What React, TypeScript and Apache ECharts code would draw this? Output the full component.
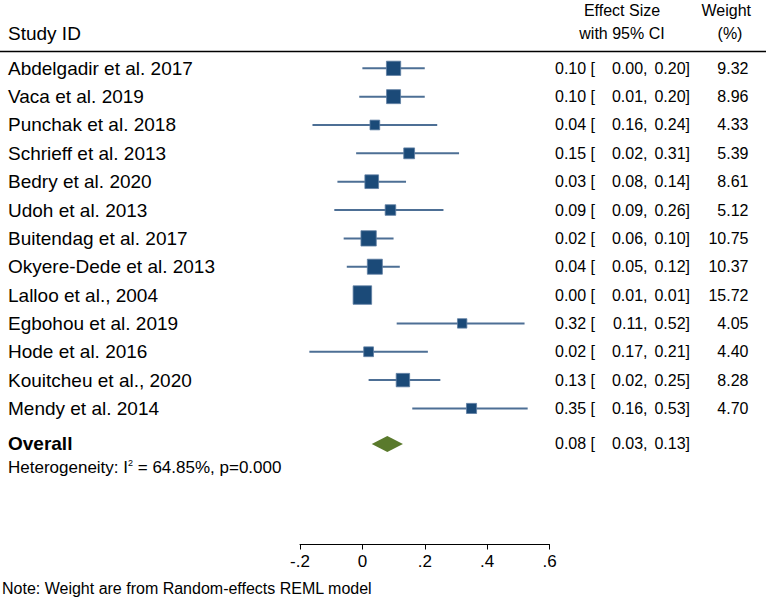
import React, { useEffect, useRef } from "react";
import * as echarts from "echarts";

const studies = [
  "Abdelgadir et al. 2017",
  "Vaca et al. 2019",
  "Punchak et al. 2018",
  "Schrieff et al. 2013",
  "Bedry et al. 2020",
  "Udoh et al. 2013",
  "Buitendag et al. 2017",
  "Okyere-Dede et al. 2013",
  "Lalloo et al., 2004",
  "Egbohou et al. 2019",
  "Hode et al. 2016",
  "Kouitcheu et al., 2020",
  "Mendy et al. 2014",
];
const effect = [0.1, 0.1, 0.04, 0.15, 0.03, 0.09, 0.02, 0.04, 0.0, 0.32, 0.02, 0.13, 0.35];
const lower = [0.0, -0.01, -0.16, -0.02, -0.08, -0.09, -0.06, -0.05, -0.01, 0.11, -0.17, 0.02, 0.16];
const upper = [0.2, 0.2, 0.24, 0.31, 0.14, 0.26, 0.1, 0.12, 0.01, 0.52, 0.21, 0.25, 0.53];
const weights = [9.32, 8.96, 4.33, 5.39, 8.61, 5.12, 10.75, 10.37, 15.72, 4.05, 4.4, 8.28, 4.7];
const overallEffect = 0.08;
const overallLower = 0.03;
const overallUpper = 0.13;
const heterogeneity = "64.85%, p=0.000";

const FONT = "'Liberation Sans', Arial, Helvetica, sans-serif";
const FS = 16;
const FS_LEFT = 19;
const OVERALL_ROW = 13.25;

// as printed in the reference (signs of bounds not shown)
const fmt = (v: number) => Math.abs(v).toFixed(2);

export default function App() {
  const ref = useRef<HTMLDivElement>(null);
  useEffect(() => {
    if (!ref.current) return;
    const chart = echarts.init(ref.current, undefined, { renderer: "svg" });
    const rows = studies.map((s, i) => [effect[i], i, lower[i], upper[i], weights[i]]);
    const textStyle = (text: string, x: number, y: number, align: string, size = FS, bold = false) => ({
      type: "text",
      style: {
        text,
        x,
        y,
        fill: "#000",
        font: `${bold ? "bold " : ""}${size}px ${FONT}`,
        align,
        verticalAlign: "middle",
      },
    });
    chart.setOption({
      animation: false,
      grid: { left: 300, right: 216.5, top: 51.3, bottom: 55.5 },
      xAxis: {
        type: "value",
        min: -0.2,
        max: 0.6,
        interval: 0.2,
        splitLine: { show: false },
        axisLine: { show: true, onZero: false, lineStyle: { color: "#000", width: 1 } },
        axisTick: { show: true, length: 5, lineStyle: { color: "#000" } },
        axisLabel: {
          color: "#000",
          fontSize: 17,
          fontFamily: FONT,
          margin: 8,
          formatter: (v: number) => {
            const r = Math.round(v * 10) / 10;
            if (r === 0) return "0";
            return String(r).replace("0.", ".");
          },
        },
      },
      yAxis: {
        type: "value",
        inverse: true,
        min: -0.6,
        max: 16.8,
        show: false,
      },
      graphic: [
        textStyle("Study ID", 8, 33, "left", FS_LEFT),
        textStyle("Effect Size", 622, 10, "center"),
        textStyle("with 95% CI", 622, 33, "center"),
        textStyle("Weight", 751, 10, "right"),
        textStyle("(%)", 730, 33, "center"),
        {
          type: "line",
          shape: { x1: 0, y1: 51.5, x2: 766, y2: 51.5 },
          style: { stroke: "#000", lineWidth: 1.5 },
        },
        {
          type: "text",
          style: {
            x: 8,
            y: 467,
            verticalAlign: "middle",
            align: "left",
            text: `Heterogeneity: I{sup|2} = ${heterogeneity}`,
            font: `17px ${FONT}`,
            fill: "#000",
            rich: {
              sup: { fontSize: 9, fontFamily: FONT, verticalAlign: "top", padding: [0, 0, 8, 0], fill: "#000" },
            },
          },
        },
        textStyle("Note: Weight are from Random-effects REML model", 2, 588, "left"),
      ],
      series: [
        {
          type: "custom",
          clip: false,
          data: rows,
          encode: { x: 0, y: 1 },
          renderItem: (params: any, api: any) => {
            const i = api.value(1);
            const es = api.value(0);
            const lo = api.value(2);
            const hi = api.value(3);
            const w = api.value(4);
            const c = api.coord([es, i]);
            const pl = api.coord([lo, i]);
            const ph = api.coord([hi, i]);
            const side = 4.67 * Math.sqrt(w);
            return {
              type: "group",
              children: [
                {
                  type: "line",
                  shape: { x1: pl[0], y1: c[1], x2: ph[0], y2: c[1] },
                  style: { stroke: "#4d6f95", lineWidth: 2 },
                },
                {
                  type: "rect",
                  shape: { x: c[0] - side / 2, y: c[1] - side / 2, width: side, height: side },
                  style: { fill: "#1b4a78", stroke: "#5f7fa3", lineWidth: 0.8 },
                },
                textStyle(studies[i], 8, c[1], "left", FS_LEFT),
                textStyle(`${es.toFixed(2)} [`, 555, c[1], "left"),
                textStyle(`${fmt(lo)},`, 647.5, c[1], "right"),
                textStyle(`${fmt(hi)}]`, 690, c[1], "right"),
                textStyle(w.toFixed(2), 748.5, c[1], "right"),
              ],
            };
          },
        },
        {
          type: "custom",
          clip: false,
          data: [[overallEffect, OVERALL_ROW, overallLower, overallUpper]],
          encode: { x: 0, y: 1 },
          renderItem: (params: any, api: any) => {
            const i = api.value(1);
            const es = api.value(0);
            const lo = api.value(2);
            const hi = api.value(3);
            const c = api.coord([es, i]);
            const pl = api.coord([lo, i]);
            const ph = api.coord([hi, i]);
            const h = 8;
            return {
              type: "group",
              children: [
                {
                  type: "polygon",
                  shape: {
                    points: [
                      [pl[0], c[1]],
                      [c[0], c[1] - h],
                      [ph[0], c[1]],
                      [c[0], c[1] + h],
                    ],
                  },
                  style: { fill: "#5a7a2c" },
                },
                textStyle("Overall", 8, c[1], "left", FS_LEFT, true),
                textStyle(`${es.toFixed(2)} [`, 555, c[1], "left"),
                textStyle(`${fmt(lo)},`, 647.5, c[1], "right"),
                textStyle(`${fmt(hi)}]`, 690, c[1], "right"),
              ],
            };
          },
        },
      ],
    });
    return () => chart.dispose();
  }, []);
  return (
    <div
      ref={ref}
      style={{ position: "fixed", left: 0, top: 0, width: 766, height: 600, background: "#fff" }}
    />
  );
}
